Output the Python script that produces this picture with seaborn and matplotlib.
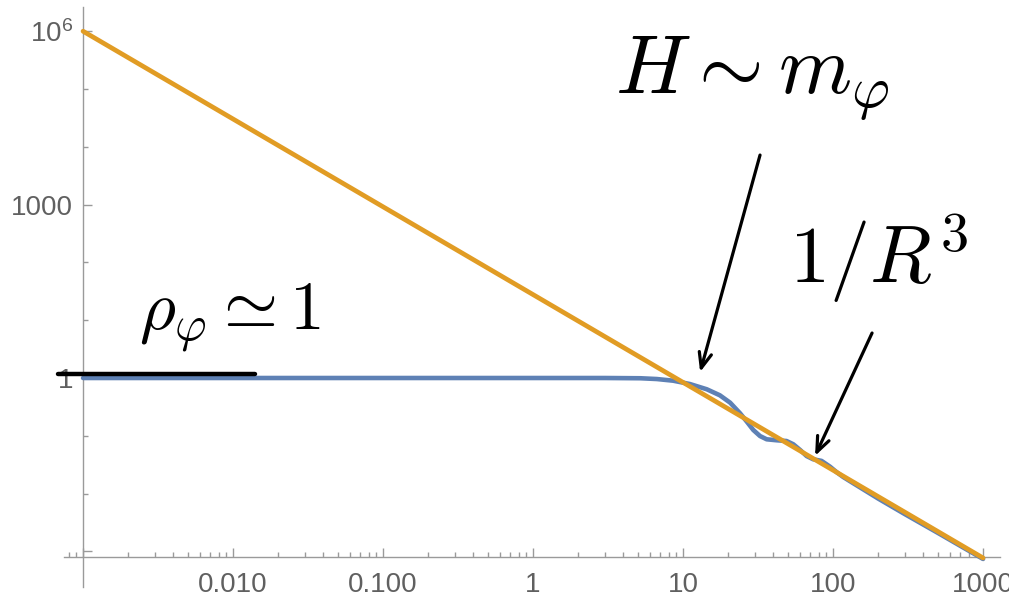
import numpy as np
import pandas as pd
import matplotlib
matplotlib.use("Agg")
import matplotlib.pyplot as plt
from matplotlib.ticker import FixedLocator, FixedFormatter, NullFormatter
import seaborn as sns

# scalar-field energy density vs. time (log-log)
t_rho = [0.001, 0.01, 0.1, 1, 3, 5.2, 6.68, 8.6, 11.1, 14.4, 17.6, 20.6, 24.0,
         26.6, 29.4, 32.6, 36.1, 42.1, 49.0, 54.3, 60.3, 66.7, 73.6, 83.8, 95.5,
         105.6, 116.8, 136.5, 200, 300, 500, 1000]
rho = [1, 1, 1, 1, 1, 0.99, 0.96, 0.898, 0.787, 0.638, 0.502, 0.374, 0.245,
       0.176, 0.126, 0.099, 0.087, 0.0837, 0.0812, 0.0714, 0.0569, 0.0446,
       0.0393, 0.0368, 0.0292, 0.0235, 0.0194, 0.0151, 0.0082, 0.00444,
       0.00209, 0.00074]

# matter-like scaling 1/R^3
t_mat = [0.001, 1000]
rho_mat = [1.0e6, 7.7e-4]

# hand-drawn plateau stroke
t_flat = [6.8e-4, 0.014]
rho_flat = [1.17, 1.17]

x_major = [1e-3, 1e-2, 1e-1, 1, 10, 100, 1000]
x_major_labels = ["", "0.010", "0.100", "1", "10", "100", "1000"]
y_major = [1e6, 1e3, 1, 1e-3]
y_major_labels = [r"$\mathregular{10^{6}}$", "1000", "1", ""]
y_minor = [1e5, 1e4, 1e2, 1e1, 1e-1, 1e-2]

sns.set_style("white")
plt.rcParams["font.family"] = ["Liberation Sans", "DejaVu Sans"]
plt.rcParams["mathtext.fontset"] = "cm"

blue = "#5E81B5"
orange = "#E19C24"
axis_gray = "#9a9a9a"
label_gray = "#606060"

fig = plt.figure(figsize=(10.09, 5.97), dpi=100)
ax = fig.add_axes([64 / 1009, 10 / 597, 936 / 1009, 580 / 597])

df_rho = pd.DataFrame({"t": t_rho, "rho": rho})
df_mat = pd.DataFrame({"t": t_mat, "rho": rho_mat})

sns.lineplot(data=df_rho, x="t", y="rho", color=blue, lw=3.3, ax=ax,
             estimator=None, sort=False, zorder=3)
sns.lineplot(data=df_mat, x="t", y="rho", color=orange, lw=3.4, ax=ax,
             estimator=None, sort=False, zorder=4)
for ln in ax.lines:
    ln.set_solid_joinstyle("round")

ax.set_xscale("log")
ax.set_yscale("log")
ax.set_xlim(10 ** -3.127, 10 ** 3.113)
ax.set_ylim(10 ** -3.616, 10 ** 6.419)
ax.set_xlabel("")
ax.set_ylabel("")

for side in ["top", "right"]:
    ax.spines[side].set_visible(False)
ax.spines["left"].set_position(("data", 1e-3))
ax.spines["bottom"].set_position(("data", 10 ** -3.097))
for side in ["left", "bottom"]:
    ax.spines[side].set_color(axis_gray)
    ax.spines[side].set_linewidth(1.0)

x_minor = [m * 10.0 ** e for e in range(-4, 3) for m in range(2, 10)]
x_minor = [v for v in x_minor if 7e-4 < v < 1000]
ax.xaxis.set_major_locator(FixedLocator(x_major))
ax.xaxis.set_major_formatter(FixedFormatter(x_major_labels))
ax.xaxis.set_minor_locator(FixedLocator(x_minor))
ax.xaxis.set_minor_formatter(NullFormatter())
ax.yaxis.set_major_locator(FixedLocator(y_major))
ax.yaxis.set_major_formatter(FixedFormatter(y_major_labels))
ax.yaxis.set_minor_locator(FixedLocator(y_minor))
ax.yaxis.set_minor_formatter(NullFormatter())

ax.tick_params(axis="both", which="major", direction="in", length=6.5,
               width=1.0, color=axis_gray, labelcolor=label_gray, labelsize=20)
ax.tick_params(axis="both", which="minor", direction="in", length=3.5,
               width=1.0, color=axis_gray)
ax.tick_params(axis="x", which="major", pad=11)
ax.tick_params(axis="y", which="major", pad=7)
ax.tick_params(left=True, bottom=True, which="both")

# annotations
ax.plot(t_flat, rho_flat, color="black", lw=3.2, solid_capstyle="round",
        clip_on=False, zorder=6)

ink = dict(color="black", zorder=7)
ax.text(28.8, 1.55e5, r"$H \sim m_\varphi$", fontsize=60, ha="center",
        va="center", **ink)
ax.text(200, 115, r"$1/R^{3}$", fontsize=58, ha="center", va="center",
        **ink)
ax.text(0.0095, 11, r"$\rho_\varphi \simeq 1$", fontsize=50, ha="center",
        va="center", **ink)

arrow = dict(arrowstyle="->,head_length=1.1,head_width=0.45", color="black",
             lw=2.3, shrinkA=0, shrinkB=0)
ax.annotate("", xy=(13, 1.27), xytext=(32.6, 7200), arrowprops=arrow,
            zorder=7)
ax.annotate("", xy=(75.9, 0.045), xytext=(182, 6.0), arrowprops=arrow,
            zorder=7)

fig.savefig("out.png", dpi=100)
